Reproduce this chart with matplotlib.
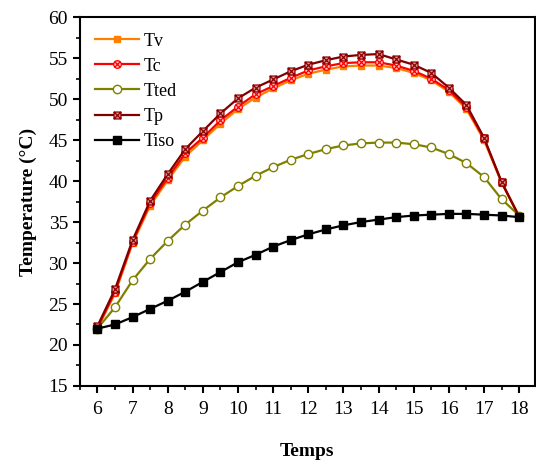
import matplotlib
matplotlib.use("Agg")
import matplotlib.pyplot as plt
from matplotlib.path import Path
from matplotlib.ticker import MultipleLocator

plt.rcParams['font.family'] = ['Liberation Serif', 'DejaVu Serif']
plt.rcParams['mathtext.fontset'] = 'stix'

# heures
temps = [6, 6.5, 7, 7.5, 8, 8.5, 9, 9.5, 10, 10.5, 11, 11.5, 12,
         12.5, 13, 13.5, 14, 14.5, 15, 15.5, 16, 16.5, 17, 17.5, 18]

tv = [22.0, 26.3, 32.4, 37.0, 40.1, 43.0, 45.0, 47.0, 48.8, 50.2, 51.3, 52.3, 53.1,
      53.6, 54.0, 54.1, 54.1, 53.8, 53.2, 52.3, 50.9, 48.8, 45.0, 39.8, 35.7]
tc = [22.1, 26.5, 32.6, 37.3, 40.4, 43.4, 45.3, 47.4, 49.1, 50.6, 51.6, 52.6, 53.5,
      54.0, 54.4, 54.5, 54.5, 54.1, 53.45, 52.5, 51.1, 49.0, 45.2, 39.9, 35.7]
tted = [22.0, 24.6, 27.9, 30.5, 32.7, 34.7, 36.4, 38.0, 39.4, 40.65, 41.7, 42.6, 43.3,
        43.9, 44.35, 44.6, 44.7, 44.7, 44.5, 44.1, 43.3, 42.2, 40.5, 37.8, 35.8]
tp = [22.3, 26.8, 32.8, 37.6, 40.85, 43.9, 46.1, 48.25, 50.1, 51.4, 52.4, 53.4, 54.2,
      54.75, 55.2, 55.4, 55.5, 54.85, 54.2, 53.2, 51.4, 49.3, 45.3, 39.9, 35.65]
tiso = [22.0, 22.5, 23.4, 24.4, 25.4, 26.5, 27.7, 28.9, 30.1, 31.0, 32.0, 32.8, 33.5,
        34.1, 34.6, 35.0, 35.3, 35.6, 35.8, 35.9, 36.0, 36.0, 35.9, 35.8, 35.6]

# marqueurs composes : carre + croix, cercle + croix
cross = Path([(-1, -1), (1, 1), (-1, 1), (1, -1)],
             [Path.MOVETO, Path.LINETO, Path.MOVETO, Path.LINETO])
square = Path([(-1, -1), (1, -1), (1, 1), (-1, 1), (-1, -1)],
              [Path.MOVETO, Path.LINETO, Path.LINETO, Path.LINETO, Path.CLOSEPOLY])
box_x = Path.make_compound_path(square, cross)
cross_c = Path([(-0.71, -0.71), (0.71, 0.71), (-0.71, 0.71), (0.71, -0.71)],
               [Path.MOVETO, Path.LINETO, Path.MOVETO, Path.LINETO])
circ_x = Path.make_compound_path(Path.unit_circle(), cross_c)

fig = plt.figure(figsize=(5.36, 4.65), dpi=100)
ax = fig.add_axes([0.149, 0.170, 0.849, 0.793])

ax.plot(temps, tv, color='#FF8000', lw=1.6, marker='s', ms=5,
        mfc='#FF8000', mec='#FF8000', label='Tv')
ax.plot(temps, tc, color='#FF0000', lw=1.6, marker=circ_x, ms=5.5,
        mfc='#FFC0C0', mec='#FF0000', mew=0.9, label='Tc')
ax.plot(temps, tted, color='#808000', lw=1.6, marker='o', ms=6,
        mfc='white', mec='#808000', mew=1.0, label='Tted')
ax.plot(temps, tp, color='#800000', lw=1.6, marker=box_x, ms=5,
        mfc='#D89A9A', mec='#900000', mew=0.9, label='Tp')
ax.plot(temps, tiso, color='black', lw=1.6, marker='s', ms=5.2,
        mfc='black', mec='black', label='Tiso')

ax.set_xlim(5.5, 18.45)
ax.set_ylim(15, 60)
ax.xaxis.set_major_locator(MultipleLocator(1))
ax.xaxis.set_minor_locator(MultipleLocator(0.5))
ax.yaxis.set_major_locator(MultipleLocator(5))
ax.yaxis.set_minor_locator(MultipleLocator(2.5))
ax.tick_params(which='major', direction='out', length=5, width=1.5, labelsize=14)
ax.tick_params(axis='x', which='major', pad=6)
ax.tick_params(which='minor', direction='out', length=3, width=1.2)
for s in ax.spines.values():
    s.set_linewidth(1.5)

ax.set_xlabel('Temps', fontsize=14, fontweight='bold', labelpad=18)
ax.set_ylabel('Temperature (°C)', fontsize=14, fontweight='bold', labelpad=8)

ax.legend(loc='upper left', frameon=False, fontsize=13, handlelength=2.4,
          labelspacing=0.45, handletextpad=0.3, borderaxespad=0.55,
          borderpad=0.3)

fig.savefig('out.png', dpi=100)
